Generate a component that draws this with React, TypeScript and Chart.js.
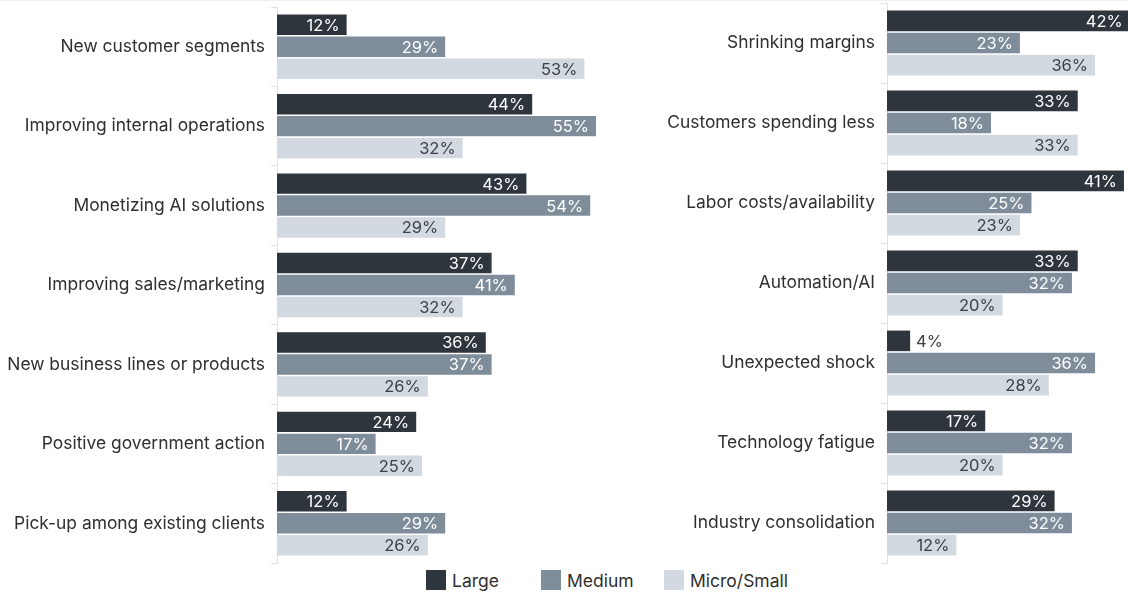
import React, { useEffect, useRef } from 'react';
import { Chart, registerables } from 'chart.js';

Chart.register(...registerables);

const leftCategories = [
  'New customer segments',
  'Improving internal operations',
  'Monetizing AI solutions',
  'Improving sales/marketing',
  'New business lines or products',
  'Positive government action',
  'Pick-up among existing clients',
];
const leftLarge = [12, 44, 43, 37, 36, 24, 12];
const leftMedium = [29, 55, 54, 41, 37, 17, 29];
const leftMicroSmall = [53, 32, 29, 32, 26, 25, 26];

const rightCategories = [
  'Shrinking margins',
  'Customers spending less',
  'Labor costs/availability',
  'Automation/AI',
  'Unexpected shock',
  'Technology fatigue',
  'Industry consolidation',
];
const rightLarge = [42, 33, 41, 33, 4, 17, 29];
const rightMedium = [23, 18, 25, 32, 36, 32, 32];
const rightMicroSmall = [36, 33, 23, 20, 28, 20, 12];

const seriesNames = ['Large', 'Medium', 'Micro/Small'];
const seriesColors = ['#2e353d', '#7f8d9b', '#d3d9e0'];
const labelInsideColors = ['#ffffff', '#ffffff', '#3a3f46'];
const FONT = 'Inter, "Noto Sans", sans-serif';

const valueLabelPlugin = {
  id: 'valueLabels',
  afterDatasetsDraw(chart: any) {
    const ctx = chart.ctx;
    ctx.save();
    ctx.font = `16.5px ${FONT}`;
    ctx.textBaseline = 'middle';
    chart.data.datasets.forEach((ds: any, di: number) => {
      const meta = chart.getDatasetMeta(di);
      meta.data.forEach((bar: any, i: number) => {
        const v = ds.data[i];
        const text = `${v}%`;
        const w = ctx.measureText(text).width;
        const barLen = bar.x - bar.base;
        const pad = 7;
        if (barLen > w + pad * 2) {
          ctx.textAlign = 'right';
          ctx.fillStyle = labelInsideColors[di];
          ctx.fillText(text, bar.x - pad, bar.y + 1);
        } else {
          ctx.textAlign = 'left';
          ctx.fillStyle = '#3a3f46';
          ctx.fillText(text, bar.x + 6, bar.y + 1);
        }
      });
    });
    ctx.restore();
  },
};

function makeConfig(
  categories: string[],
  values: number[][],
  axisWidth: number,
  xMax: number,
  padTop: number
): any {
  return {
    type: 'bar',
    data: {
      labels: categories,
      datasets: values.map((d, i) => ({
        label: seriesNames[i],
        data: d,
        backgroundColor: seriesColors[i],
        borderWidth: 0,
        categoryPercentage: 0.83,
        barPercentage: 0.93,
        clip: false,
      })),
    },
    options: {
      indexAxis: 'y',
      responsive: false,
      animation: false,
      devicePixelRatio: 1,
      layout: { padding: { top: padTop, bottom: 1, left: 0, right: 0 } },
      plugins: {
        legend: { display: false },
        tooltip: { enabled: false },
      },
      scales: {
        x: { display: false, min: 0, max: xMax },
        y: {
          grid: {
            drawOnChartArea: false,
            drawTicks: true,
            tickLength: 6,
            color: '#e2e2e2',
          },
          border: { display: true, color: '#e2e2e2' },
          ticks: {
            font: { family: FONT, size: 17.4 },
            color: '#2f2f2f',
            padding: 6,
          },
          afterFit: (s: any) => {
            s.width = axisWidth;
            s.paddingTop = 0;
            s.paddingBottom = 0;
          },
        },
      },
    },
    plugins: [valueLabelPlugin],
  };
}

function BarPanel(props: {
  categories: string[];
  values: number[][];
  width: number;
  height: number;
  axisWidth: number;
  xMax: number;
  padTop: number;
  left: number;
}) {
  const ref = useRef<HTMLCanvasElement | null>(null);
  useEffect(() => {
    if (!ref.current) return;
    const chart = new Chart(
      ref.current,
      makeConfig(props.categories, props.values, props.axisWidth, props.xMax, props.padTop)
    );
    return () => chart.destroy();
  }, []);
  return (
    <canvas
      ref={ref}
      width={props.width}
      height={props.height}
      style={{
        position: 'absolute',
        left: props.left,
        top: 0,
        width: props.width,
        height: props.height,
        display: 'block',
      }}
    />
  );
}

const legendLefts = [426, 541, 664];

export default function App() {
  return (
    <div
      style={{
        position: 'absolute',
        left: 0,
        top: 0,
        width: 1128,
        height: 593,
        background: '#ffffff',
        overflow: 'hidden',
        fontFamily: FONT,
      }}
    >
      <div
        style={{
          position: 'absolute',
          left: 0,
          top: 0,
          width: 1128,
          height: 1,
          background: '#f0f0f0',
        }}
      />
      <BarPanel
        categories={leftCategories}
        values={[leftLarge, leftMedium, leftMicroSmall]}
        width={625}
        height={564}
        axisWidth={277}
        xMax={60}
        padTop={7}
        left={0}
      />
      <BarPanel
        categories={rightCategories}
        values={[rightLarge, rightMedium, rightMicroSmall]}
        width={503}
        height={564}
        axisWidth={262}
        xMax={41.7}
        padTop={3}
        left={625}
      />
      {seriesNames.map((n, i) => (
        <div
          key={n}
          style={{
            position: 'absolute',
            left: legendLefts[i],
            top: 570,
            height: 20,
            display: 'flex',
            alignItems: 'center',
            fontSize: 17.5,
            color: '#2f2f2f',
            whiteSpace: 'nowrap',
          }}
        >
          <span
            style={{
              display: 'inline-block',
              width: 20,
              height: 20,
              background: seriesColors[i],
              marginRight: 6,
            }}
          />
          <span>{n}</span>
        </div>
      ))}
    </div>
  );
}
